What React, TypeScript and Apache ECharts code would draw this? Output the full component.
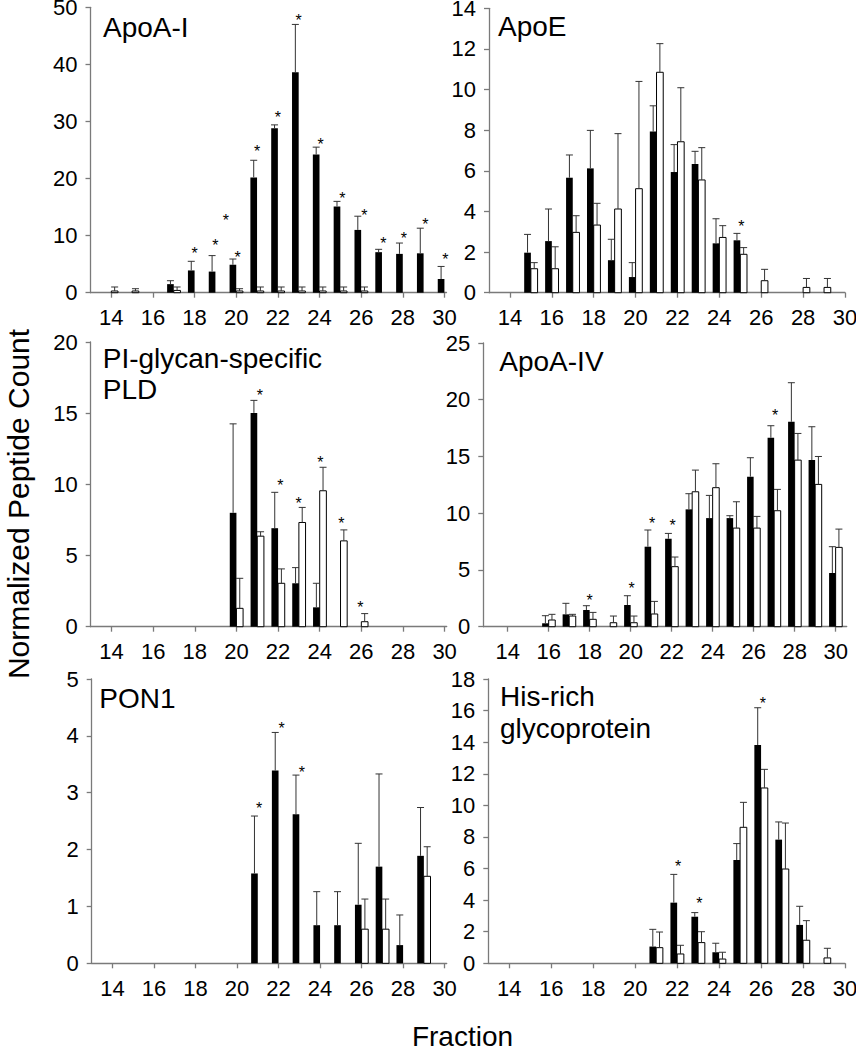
import { useEffect, useRef } from "react";
import * as echarts from "echarts";

// ---------- DATA ----------
const FRACTIONS = [14, 15, 16, 17, 18, 19, 20, 21, 22, 23, 24, 25, 26, 27, 28, 29, 30];
const TICK_VALUES = [14, 16, 18, 20, 22, 24, 26, 28, 30];
const X_TITLE = "Fraction";
const Y_TITLE = "Normalized Peptide Count";

// ApoA-I
const apoA1Black = [null, null, null, 1.5, 3.9, 3.7, 4.9, 20.2, 28.8, 38.6, 24.2, 15.1, 11.0, 7.1, 6.8, 6.9, 2.4];
const apoA1BlackErr = [null, null, null, 2.1, 5.5, 6.5, 5.9, 23.2, 29.4, 47.0, 25.5, 16.0, 13.4, 7.6, 8.7, 11.3, 4.6];
const apoA1White = [0.3, 0.3, null, 0.4, null, null, 0.3, 0.3, 0.3, 0.3, 0.3, 0.3, 0.3, null, null, null, null];
const apoA1WhiteErr = [1.0, 0.7, null, 1.0, null, null, 0.7, 1.0, 1.0, 1.0, 1.0, 1.0, 1.0, null, null, null, null];
const apoA1Stars = [[18, 7.6], [19, 8.9], [19.5, 13.3], [20.07, 6.9], [21, 25.5], [22, 31.4], [23, 48.4], [24.05, 26.6], [25.1, 17.2], [26.15, 14.2], [27.07, 9.4], [28.05, 10.2], [29.08, 12.7], [30.04, 6.6]];

// ApoE
const apoEBlack = [null, 1.97, 2.54, 5.66, 6.12, 1.6, 0.77, 7.93, 5.94, 6.34, 2.43, 2.58, null, null, null, null, null];
const apoEBlackErr = [null, 2.87, 4.12, 6.78, 7.99, 2.63, 1.48, 9.2, 7.29, 6.96, 3.64, 2.92, null, null, null, null, null];
const apoEWhite = [null, 1.18, 1.18, 2.97, 3.33, 4.12, 5.12, 10.85, 7.43, 5.55, 2.72, 1.89, 0.59, null, 0.26, 0.26, null];
const apoEWhiteErr = [null, 1.48, 2.26, 3.79, 4.4, 7.83, 10.4, 12.26, 10.09, 7.14, 3.3, 2.22, 1.15, null, 0.7, 0.7, null];
const apoEStars = [[25.05, 3.45]];

// PI-glycan-specific PLD
const pldBlack = [null, null, null, null, null, null, 8.0, 15.02, 6.92, 3.05, 1.36, null, null, null, null, null, null];
const pldBlackErr = [null, null, null, null, null, null, 14.25, 15.9, 9.44, 4.15, 3.05, null, null, null, null, null, null];
const pldWhite = [null, null, null, null, null, null, 1.29, 6.36, 3.05, 7.32, 9.55, 6.03, 0.35, null, null, null, null];
const pldWhiteErr = [null, null, null, null, null, null, 3.4, 6.67, 4.06, 8.38, 11.2, 6.8, 0.92, null, null, null, null];
const pldStars = [[21.12, 16.5], [22.11, 10.2], [22.99, 8.97], [24.03, 11.8], [25.04, 7.56], [25.95, 1.6]];

// ApoA-IV
const apoA4Black = [null, null, 0.3, 1.09, 1.47, null, 1.91, 7.05, 7.75, 10.34, 9.57, 9.57, 13.22, 16.65, 18.06, 14.68, 4.73];
const apoA4BlackErr = [null, null, 0.97, 2.06, 1.85, null, 2.73, 8.52, 8.22, 11.72, 11.57, 9.78, 14.89, 17.71, 21.5, 17.62, 7.05];
const apoA4White = [null, null, 0.59, 0.94, 0.65, 0.35, 0.35, 1.12, 5.29, 11.89, 12.25, 8.69, 8.69, 10.22, 14.68, 12.54, 6.99];
const apoA4WhiteErr = [null, null, 1.09, 1.09, 1.26, 0.94, 0.94, 2.23, 6.14, 13.8, 14.36, 11.01, 9.72, 12.1, 17.03, 15.0, 8.6];
const apoA4Stars = [[18.0, 2.7], [20.05, 3.7], [21.05, 9.46], [22.05, 9.25], [27.05, 18.94]];

// PON1
const pon1Black = [null, null, null, null, null, null, null, 1.58, 3.39, 2.62, 0.67, 0.67, 1.03, 1.7, 0.32, 1.89, null];
const pon1BlackErr = [null, null, null, null, null, null, null, 2.59, 4.06, 3.31, 1.26, 1.26, 2.11, 3.33, 0.85, 2.74, null];
const pon1White = [null, null, null, null, null, null, null, null, null, null, null, null, 0.6, 0.6, null, 1.53, null];
const pon1WhiteErr = [null, null, null, null, null, null, null, null, null, null, null, null, 1.13, 1.13, null, 2.05, null];
const pon1Stars = [[21.06, 2.8], [22.15, 4.2], [23.12, 3.42]];

// His-rich glycoprotein
const hrgBlack = [null, null, null, null, null, null, null, 1.06, 3.84, 2.95, 0.7, 6.54, 13.82, 7.83, 2.43, null, null];
const hrgBlackErr = [null, null, null, null, null, null, null, 2.15, 5.63, 3.21, 1.27, 7.58, 16.18, 8.95, 3.61, null, null];
const hrgWhite = [null, null, null, null, null, null, null, 0.99, 0.59, 1.31, 0.27, 8.61, 11.1, 5.97, 1.46, 0.34, null];
const hrgWhiteErr = [null, null, null, null, null, null, null, 1.98, 1.14, 2.0, 0.7, 10.19, 12.28, 8.88, 2.7, 0.95, null];
const hrgStars = [[22.05, 6.37], [23.06, 4.07], [26.09, 16.7]];

const PANELS = [
  { title: ["ApoA-I"], black: apoA1Black, blackErr: apoA1BlackErr, white: apoA1White, whiteErr: apoA1WhiteErr, stars: apoA1Stars, yMax: 50, yInterval: 10 },
  { title: ["ApoE"], black: apoEBlack, blackErr: apoEBlackErr, white: apoEWhite, whiteErr: apoEWhiteErr, stars: apoEStars, yMax: 14, yInterval: 2 },
  { title: ["PI-glycan-specific", "PLD"], black: pldBlack, blackErr: pldBlackErr, white: pldWhite, whiteErr: pldWhiteErr, stars: pldStars, yMax: 20, yInterval: 5 },
  { title: ["ApoA-IV"], black: apoA4Black, blackErr: apoA4BlackErr, white: apoA4White, whiteErr: apoA4WhiteErr, stars: apoA4Stars, yMax: 25, yInterval: 5 },
  { title: ["PON1"], black: pon1Black, blackErr: pon1BlackErr, white: pon1White, whiteErr: pon1WhiteErr, stars: pon1Stars, yMax: 5, yInterval: 1 },
  { title: ["His-rich", "glycoprotein"], black: hrgBlack, blackErr: hrgBlackErr, white: hrgWhite, whiteErr: hrgWhiteErr, stars: hrgStars, yMax: 18, yInterval: 2 },
];

// ---------- LAYOUT ----------
const LAYOUT = [
  { left: 90.5, top: 7.3, width: 356, height: 285.4, xMin: 13, xMax: 30.1, tx: 103, tb: [38] },
  { left: 489, top: 8.3, width: 356, height: 284.4, xMin: 13, xMax: 30, tx: 498, tb: [36.7] },
  { left: 90.7, top: 342, width: 356, height: 284.7, xMin: 13, xMax: 30.1, tx: 102.7, tb: [368.3, 399.3] },
  { left: 483.3, top: 343, width: 363.4, height: 283.7, xMin: 12.81, xMax: 30.54, tx: 499.3, tb: [371.7] },
  { left: 91.7, top: 679, width: 355, height: 284.3, xMin: 13, xMax: 30.1, tx: 99.3, tb: [709] },
  { left: 488.3, top: 679, width: 356.7, height: 284.3, xMin: 13, xMax: 30, tx: 500, tb: [706.7, 738.3] },
];

const FONT = '"Liberation Sans", Arial, sans-serif';
const AXIS_COLOR = "#7a7a7a";
const ERR_COLOR = "#333";
const BAR_W = 0.32;

function pairs(vals: (number | null)[], errs: (number | null)[]) {
  const out: number[][] = [];
  FRACTIONS.forEach((f, i) => {
    const v = vals[i];
    if (v !== null && v !== undefined) out.push([f, v, errs[i] ?? v]);
  });
  return out;
}

function barRenderer(side: number) {
  return (_params: any, api: any) => {
    const x = api.value(0);
    const v = api.value(1);
    const e = api.value(2);
    const base = api.coord([x, 0]);
    const top = api.coord([x, v]);
    const ep = api.coord([x, e]);
    const bw = api.size([BAR_W, 0])[0];
    const x0 = side < 0 ? base[0] - bw : base[0];
    const xc = x0 + bw / 2;
    const children: any[] = [
      {
        type: "rect",
        shape: { x: x0, y: top[1], width: bw, height: base[1] - top[1] },
        style: side < 0 ? { fill: "#000" } : { fill: "#fff", stroke: "#000", lineWidth: 1 },
      },
    ];
    if (e > v) {
      children.push({ type: "line", shape: { x1: xc, y1: top[1], x2: xc, y2: ep[1] }, style: { stroke: ERR_COLOR, lineWidth: 1 } });
      children.push({ type: "line", shape: { x1: xc - 3.5, y1: ep[1], x2: xc + 3.5, y2: ep[1] }, style: { stroke: ERR_COLOR, lineWidth: 1 } });
    }
    return { type: "group", children };
  };
}

function starRenderer(_params: any, api: any) {
  const p = api.coord([api.value(0), api.value(1)]);
  return {
    type: "text",
    x: p[0],
    y: p[1] + 4,
    style: { text: "*", fill: "#000", font: `16px ${FONT}`, align: "center", verticalAlign: "middle" },
  };
}

export default function App() {
  const ref = useRef<HTMLDivElement>(null);
  useEffect(() => {
    if (!ref.current) return;
    const chart = echarts.init(ref.current, undefined, { renderer: "svg" });
    const grid: any[] = [];
    const xAxis: any[] = [];
    const yAxis: any[] = [];
    const series: any[] = [];
    const graphic: any[] = [];

    PANELS.forEach((p, i) => {
      const L = LAYOUT[i];
      grid.push({ left: L.left, top: L.top, width: L.width, height: L.height, containLabel: false, outerBoundsMode: "none" });
      xAxis.push({
        type: "value",
        gridIndex: i,
        min: L.xMin,
        max: L.xMax,
        axisLine: { show: true, onZero: false, lineStyle: { color: AXIS_COLOR, width: 1.3 } },
        axisTick: { show: true, customValues: TICK_VALUES, length: 5, lineStyle: { color: AXIS_COLOR, width: 1.3 } },
        axisLabel: { customValues: TICK_VALUES, fontSize: 22, fontFamily: FONT, color: "#000", margin: 14 },
        splitLine: { show: false },
      });
      yAxis.push({
        type: "value",
        gridIndex: i,
        min: 0,
        max: p.yMax,
        interval: p.yInterval,
        axisLine: { show: true, lineStyle: { color: AXIS_COLOR, width: 1.3 } },
        axisTick: { show: true, length: 5, lineStyle: { color: AXIS_COLOR, width: 1.3 } },
        axisLabel: { fontSize: 22, fontFamily: FONT, color: "#000", margin: 13 },
        splitLine: { show: false },
      });
      series.push({
        type: "custom",
        xAxisIndex: i,
        yAxisIndex: i,
        renderItem: barRenderer(-1),
        data: pairs(p.black, p.blackErr),
        encode: { x: 0, y: 1 },
        z: 3,
      });
      series.push({
        type: "custom",
        xAxisIndex: i,
        yAxisIndex: i,
        renderItem: barRenderer(1),
        data: pairs(p.white, p.whiteErr),
        encode: { x: 0, y: 1 },
        z: 2,
      });
      series.push({
        type: "custom",
        xAxisIndex: i,
        yAxisIndex: i,
        renderItem: starRenderer,
        data: p.stars,
        encode: { x: 0, y: 1 },
        z: 4,
      });
      p.title.forEach((line, k) => {
        graphic.push({
          type: "text",
          x: L.tx,
          y: L.tb[k] - 0.358 * 28,
          style: { text: line, font: `28px ${FONT}`, fill: "#000", align: "left", verticalAlign: "middle" },
        });
      });
    });

    graphic.push({
      type: "text",
      x: 462.5,
      y: 1036,
      style: { text: X_TITLE, font: `28px ${FONT}`, fill: "#000", align: "center", verticalAlign: "middle" },
    });
    graphic.push({
      type: "text",
      x: 18,
      y: 504,
      rotation: Math.PI / 2,
      style: { text: Y_TITLE, font: `30px ${FONT}`, fill: "#000", align: "center", verticalAlign: "middle" },
    });

    chart.setOption({
      animation: false,
      backgroundColor: "#fff",
      grid,
      xAxis,
      yAxis,
      series,
      graphic,
    });
    return () => chart.dispose();
  }, []);
  return <div ref={ref} style={{ position: "absolute", left: 0, top: 0, width: 856, height: 1050 }} />;
}
